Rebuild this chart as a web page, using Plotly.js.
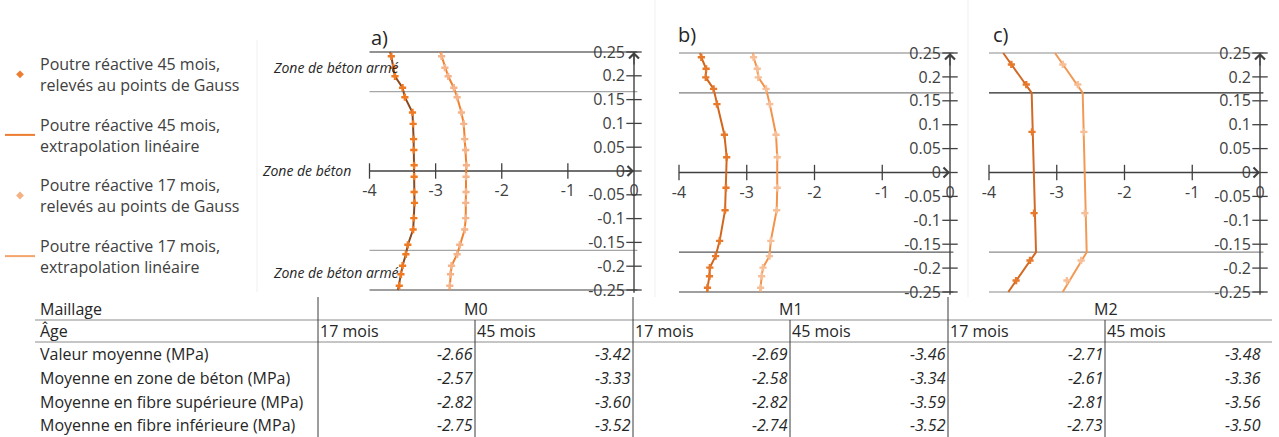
<!DOCTYPE html>
<html><head><meta charset="utf-8">
<script src="https://cdn.plot.ly/plotly-3.0.1.min.js"></script>
<style>html,body{margin:0;padding:0;background:#fff}#chart{width:1279px;height:437px}</style>
</head><body><div id="chart"></div>
<script>
// ---------- DATA ----------
// Gauss point ordinates (m) per mesh
const yM0 = [0.241, 0.217, 0.199, 0.175, 0.155, 0.123, 0.099, 0.067, 0.044, 0.012, -0.012, -0.044, -0.067, -0.099, -0.123, -0.155, -0.175, -0.199, -0.217, -0.241];
const yM1 = [0.241, 0.217, 0.199, 0.175, 0.143, 0.079, 0.032, -0.032, -0.079, -0.143, -0.175, -0.199, -0.217, -0.241];
const yM2 = [0.226, 0.184, 0.085, -0.085, -0.184, -0.226];
// Stress at Gauss points (MPa)
const m0_45 = [-3.67, -3.64, -3.615, -3.50, -3.465, -3.35, -3.34, -3.333, -3.33, -3.325, -3.325, -3.325, -3.32, -3.33, -3.34, -3.42, -3.45, -3.50, -3.525, -3.55];
const m0_17 = [-2.91, -2.86, -2.81, -2.725, -2.675, -2.61, -2.575, -2.56, -2.545, -2.535, -2.54, -2.54, -2.545, -2.545, -2.56, -2.635, -2.675, -2.76, -2.775, -2.785];
const m1_45 = [-3.67, -3.60, -3.605, -3.49, -3.44, -3.33, -3.296, -3.306, -3.32, -3.40, -3.46, -3.545, -3.55, -3.58];
const m1_17 = [-2.90, -2.845, -2.83, -2.715, -2.66, -2.568, -2.55, -2.55, -2.558, -2.645, -2.665, -2.76, -2.78, -2.795];
const m2_45 = [-3.67, -3.45, -3.365, -3.335, -3.395, -3.60];
const m2_17 = [-2.91, -2.69, -2.60, -2.585, -2.64, -2.85];
// Linear extrapolation to fibres (values at y = 0.25 and y = -0.25)
const m0_45_ends = [-3.69, -3.57];
const m0_17_ends = [-2.93, -2.79];
const m1_45_ends = [-3.69, -3.585];
const m1_17_ends = [-2.91, -2.80];
// M2 extrapolated line (one element per zone)
const yLineM2 = [0.25, 0.1667, -0.1667, -0.25];
const m2_45_line = [-3.79, -3.37, -3.306, -3.715];
const m2_17_line = [-3.026, -2.617, -2.558, -2.912];
// zone boundaries
const zoneLines = [0.25, 0.1667, -0.1667, -0.25];
// axes
const xTicks = [-4, -3, -2, -1, 0];
const xTickText = ['-4', '-3', '-2', '-1', '0'];
const yTicks = [0.25, 0.2, 0.15, 0.1, 0.05, 0, -0.05, -0.1, -0.15, -0.2, -0.25];
const yTickText = ['0.25', '0.2', '0.15', '0.1', '0.05', '0', '-0.05', '-0.1', '-0.15', '-0.2', '-0.25'];
// legend
const legendNames = ['Poutre réactive 45 mois,<br>relevés au points de Gauss', 'Poutre réactive 45 mois,<br>extrapolation linéaire', 'Poutre réactive 17 mois,<br>relevés au points de Gauss', 'Poutre réactive 17 mois,<br>extrapolation linéaire'];
const zoneLabels = ['Zone de béton armé', 'Zone de béton', 'Zone de béton armé'];
const panelLabels = ['a)', 'b)', 'c)'];
// table
const meshes = ['M0', 'M1', 'M2'];
const ages = ['17 mois', '45 mois'];
const rowLabels = ['Valeur moyenne (MPa)', 'Moyenne en zone de béton (MPa)', 'Moyenne en fibre supérieure (MPa)', 'Moyenne en fibre inférieure (MPa)'];
const M0_17 = [-2.66, -2.57, -2.82, -2.75];
const M0_45 = [-3.42, -3.33, -3.60, -3.52];
const M1_17 = [-2.69, -2.58, -2.82, -2.74];
const M1_45 = [-3.46, -3.34, -3.59, -3.52];
const M2_17 = [-2.71, -2.61, -2.81, -2.73];
const M2_45 = [-3.48, -3.36, -3.56, -3.50];

// ---------- LAYOUT ----------
const W = 1279, H = 437;
const px = x => x / W, py = y => 1 - y / H;
const FONT = '"Open Sans", sans-serif';
const AX = '#404040';

const panelData = [
  {gy: yM0, v45: m0_45, v17: m0_17, ly: [0.25, ...yM0, -0.25], l45: [m0_45_ends[0], ...m0_45, m0_45_ends[1]], l17: [m0_17_ends[0], ...m0_17, m0_17_ends[1]]},
  {gy: yM1, v45: m1_45, v17: m1_17, ly: [0.25, ...yM1, -0.25], l45: [m1_45_ends[0], ...m1_45, m1_45_ends[1]], l17: [m1_17_ends[0], ...m1_17, m1_17_ends[1]]},
  {gy: yM2, v45: m2_45, v17: m2_17, ly: yLineM2, l45: m2_45_line, l17: m2_17_line}
];
const panelGeo = [
  {X4: 369.5, X0: 634, Yt: 52, Yb: 290, lx: 379, ly: 37, bx: 257, by: [40, 292],
   c45: '#8A4A22', m45: '#F07A22', c17: '#F0822E', m17: '#F5B48A',
   zc: ['#262626', '#A6A6A6', '#A6A6A6', '#404040']},
  {X4: 679, X0: 950, Yt: 53, Yb: 292, lx: 687, ly: 35, bx: 655, by: [0, 297],
   c45: '#D2661C', m45: '#E8782A', c17: '#F3924A', m17: '#F7BF98',
   zc: ['#7F7F7F', '#7F7F7F', '#595959', '#404040']},
  {X4: 989, X0: 1260, Yt: 53, Yb: 292, lx: 1001, ly: 35, bx: 968, by: [0, 297],
   c45: '#D26A26', m45: '#E8782A', c17: '#F29A55', m17: '#F7BF98',
   zc: ['#8C8C8C', '#262626', '#8C8C8C', '#8C8C8C']}
];

const traces = [], shapes = [], annotations = [];
const layout = {
  width: W, height: H, autosize: false,
  margin: {l: 0, r: 0, t: 0, b: 0, pad: 0},
  paper_bgcolor: '#ffffff', plot_bgcolor: 'rgba(0,0,0,0)',
  font: {family: FONT, color: AX, size: 14},
  showlegend: true,
  legend: {x: 0, y: py(47), xanchor: 'left', yanchor: 'top', bgcolor: 'rgba(0,0,0,0)',
           font: {family: FONT, size: 16, color: AX}, traceorder: 'grouped', tracegroupgap: 16, itemwidth: 30},
  hovermode: false
};

function seg(x0, y0, x1, y1, c, w) {
  shapes.push({type: 'line', xref: 'paper', yref: 'paper', x0: px(x0), y0: py(y0), x1: px(x1), y1: py(y1),
    line: {color: c, width: w || 1}, layer: 'below'});
}

const xr = [-4.3, 0.15], yr = [-0.27, 0.27];
panelGeo.forEach((p, i) => {
  const sfx = i === 0 ? '' : String(i + 1);
  const xa = 'x' + sfx, ya = 'y' + sfx;
  const kx = (p.X0 - p.X4) / 4, ky = (p.Yb - p.Yt) / 0.5;
  const Y0 = (p.Yt + p.Yb) / 2;
  // faint chart-area border
  seg(p.bx, p.by[0], p.bx, p.by[1], '#EFEFEF');
  layout['xaxis' + sfx] = {
    domain: [px(p.X4 + (xr[0] + 4) * kx), px(p.X0 + xr[1] * kx)], range: xr,
    anchor: 'free', position: py(Y0), showline: false, ticks: '', zeroline: false, showgrid: false,
    tickvals: xTicks, ticktext: xTickText, tickfont: {family: FONT, size: 16, color: AX},
    ticklabelstandoff: 8, fixedrange: true
  };
  layout['yaxis' + sfx] = {
    domain: [py(Y0 - yr[0] * ky), py(Y0 - yr[1] * ky)], range: yr,
    anchor: 'free', position: px(p.X0), side: 'left', showline: false, ticks: '', zeroline: false, showgrid: false,
    tickvals: yTicks, ticktext: yTickText, tickfont: {family: FONT, size: 16, color: AX},
    ticklabelstandoff: 9, fixedrange: true
  };
  // zone boundary lines
  zoneLines.forEach((z, k) => traces.push({type: 'scatter', mode: 'lines', xaxis: xa, yaxis: ya, showlegend: false,
    x: [-4, 0.05], y: [z, z], line: {color: p.zc[k], width: 1.2}, cliponaxis: false}));
  // axes lines
  traces.push({type: 'scatter', mode: 'lines', xaxis: xa, yaxis: ya, showlegend: false, cliponaxis: false,
    x: [-4, 0], y: [0, 0], line: {color: AX, width: 1.4}});
  traces.push({type: 'scatter', mode: 'lines', xaxis: xa, yaxis: ya, showlegend: false, cliponaxis: false,
    x: [0, 0], y: [-0.256, 0.25], line: {color: AX, width: 1.4}});
  // cross ticks
  traces.push({type: 'scatter', mode: 'markers', xaxis: xa, yaxis: ya, showlegend: false, cliponaxis: false,
    x: xTicks.slice(0, 4), y: xTicks.slice(0, 4).map(() => 0),
    marker: {symbol: 'line-ns-open', size: 11, color: AX, line: {color: AX, width: 1.3}}});
  traces.push({type: 'scatter', mode: 'markers', xaxis: xa, yaxis: ya, showlegend: false, cliponaxis: false,
    x: yTicks.map(() => 0), y: yTicks,
    marker: {symbol: 'line-ew-open', size: 11, color: AX, line: {color: AX, width: 1.3}}});
  // arrowheads
  annotations.push({xref: xa, yref: ya, x: 0, y: 0, ax: -14, ay: 0, text: '', showarrow: true,
    arrowhead: 4, arrowsize: 1.6, arrowwidth: 1.2, arrowcolor: AX});
  annotations.push({xref: xa, yref: ya, x: 0, y: 0.25, ax: 0, ay: 14, text: '', showarrow: true,
    arrowhead: 4, arrowsize: 1.6, arrowwidth: 1.2, arrowcolor: AX});
  // data
  const d = panelData[i];
  traces.push({type: 'scatter', mode: 'lines', xaxis: xa, yaxis: ya, showlegend: false, cliponaxis: false,
    x: d.l17, y: d.ly, line: {color: p.c17, width: 2}});
  traces.push({type: 'scatter', mode: 'lines', xaxis: xa, yaxis: ya, showlegend: false, cliponaxis: false,
    x: d.l45, y: d.ly, line: {color: p.c45, width: 2}});
  traces.push({type: 'scatter', mode: 'markers', xaxis: xa, yaxis: ya, showlegend: false, cliponaxis: false,
    x: d.v17, y: d.gy, marker: {symbol: 'cross', size: 6, color: p.m17}});
  traces.push({type: 'scatter', mode: 'markers', xaxis: xa, yaxis: ya, showlegend: false, cliponaxis: false,
    x: d.v45, y: d.gy, marker: {symbol: 'cross', size: 6, color: p.m45}});
  // panel label
  annotations.push({xref: 'paper', yref: 'paper', x: px(p.lx), y: py(p.ly), text: panelLabels[i], showarrow: false,
    xanchor: 'center', yanchor: 'middle', font: {family: FONT, size: 20, color: '#262626'}});
});

// legend entries
const legStyles = [
  {mode: 'markers', marker: {symbol: 'diamond', size: 6, color: '#ED7D31'}},
  {mode: 'lines', line: {color: '#ED7D31', width: 2}},
  {mode: 'markers', marker: {symbol: 'diamond', size: 6, color: '#F4B183'}},
  {mode: 'lines', line: {color: '#F4A46A', width: 2}}
];
legendNames.forEach((n, k) => traces.push(Object.assign({type: 'scatter', x: [null], y: [null], name: n,
  legendgroup: 'g' + k, showlegend: true}, legStyles[k])));

// zone labels
const zoneLabelPos = [[401, 67], [353, 170], [401, 272]];
zoneLabels.forEach((t, k) => annotations.push({xref: 'paper', yref: 'paper', x: px(zoneLabelPos[k][0]), y: py(zoneLabelPos[k][1]),
  text: '<i>' + t + '</i>', showarrow: false, xanchor: 'right', yanchor: 'middle', font: {family: FONT, size: 14, color: '#262626'}}));

// ---------- TABLE ----------
const TF = {family: FONT, size: 16, color: '#262626'};
const colL = [318, 633, 948];   // mesh block left edges
const colMid = [475, 790, 1105]; // age split
const rowY = [354, 378, 402, 425];
const tableVals = [[M0_17, M0_45], [M1_17, M1_45], [M2_17, M2_45]];
function txt(x, y, t, anchor, font) {
  annotations.push({xref: 'paper', yref: 'paper', x: px(x), y: py(y), text: t, showarrow: false,
    xanchor: anchor, yanchor: 'middle', font: font || TF});
}
txt(38, 309, 'Maillage', 'left');
txt(38, 331, 'Âge', 'left');
rowLabels.forEach((r, k) => txt(38, rowY[k], r, 'left'));
meshes.forEach((m, j) => {
  txt((colL[j] + colL[j] + 315) / 2, 309, m, 'center');
  txt(colL[j], 331, ages[0], 'left');
  txt(colMid[j], 331, ages[1], 'left');
  tableVals[j].forEach((col, a) => {
    const right = (a === 0 ? colMid[j] : colL[j] + 315);
    col.forEach((v, k) => txt(right, rowY[k], '<i>' + v.toFixed(2) + '</i>', 'right'));
  });
});
seg(35, 320, 1272, 320, '#8C8C8C');
seg(35, 342, 1272, 342, '#8C8C8C');
colL.forEach(x => seg(x, 297, x, 437, '#3A3A3A'));
colMid.forEach(x => seg(x, 320, x, 437, '#3A3A3A'));

layout.shapes = shapes;
layout.annotations = annotations;
Plotly.newPlot('chart', traces, layout, {staticPlot: true, displayModeBar: false});
</script>
</body></html>
